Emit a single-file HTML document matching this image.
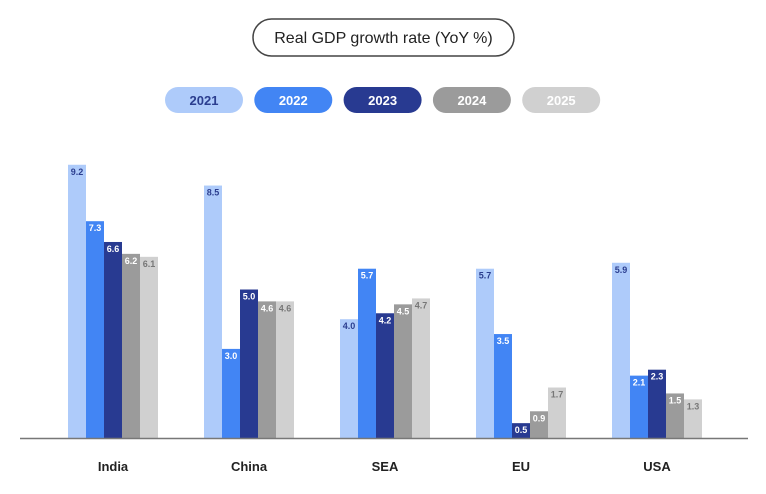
<!DOCTYPE html>
<html><head><meta charset="utf-8"><style>
body{margin:0;background:#fff;font-family:"Liberation Sans",sans-serif}
svg text{font-family:"Liberation Sans",sans-serif}
</style></head><body>
<svg id="c" width="766" height="489" viewBox="0 0 766 489">
<rect x="253" y="19" width="261" height="37" rx="18.5" fill="#fff" stroke="#444" stroke-width="1.5"/>
<text x="383.5" y="43" text-anchor="middle" font-size="16" fill="#222">Real GDP growth rate (YoY %)</text>
<g id="legend"></g>
<g id="bars"></g>
<line x1="20" y1="438.5" x2="748" y2="438.5" stroke="#777" stroke-width="1.5"/>
</svg>
<script>
const categories=["India","China","SEA","EU","USA"];
const years=["2021","2022","2023","2024","2025"];
const v2021=[9.2,8.5,4.0,5.7,5.9];
const v2022=[7.3,3.0,5.7,3.5,2.1];
const v2023=[6.6,5.0,4.2,0.5,2.3];
const v2024=[6.2,4.6,4.5,0.9,1.5];
const v2025=[6.1,4.6,4.7,1.7,1.3];
const series=[v2021,v2022,v2023,v2024,v2025];
const colors=["#aecbfa","#4285f4","#283a91","#9b9b9b","#d0d0d0"];
const labelColors=["#2b3e8f","#fff","#fff","#fff","#777"];
const NS="http://www.w3.org/2000/svg";
const base=438, scale=29.7, groupX0=68, groupStep=136, barW=18;
const y=v=>base-v*scale;
const xg=i=>groupX0+i*groupStep;
function mk(t,a){const e=document.createElementNS(NS,t);for(const k in a)e.setAttribute(k,a[k]);return e;}
const L=document.getElementById('legend');
years.forEach((yr,i)=>{
 const r=mk('rect',{x:165+i*89.3,y:87,width:78,height:26,rx:13,fill:colors[i]});
 
 
 L.appendChild(r);
 const t=mk('text',{x:165+i*89.3+39,y:105,'text-anchor':'middle','font-size':13,'font-weight':'bold',fill:i==0?'#2b3e8f':'#fff'});
 t.textContent=yr;
 
 
 L.appendChild(t);
});
const B=document.getElementById('bars');
categories.forEach((c,ci)=>{
 series.forEach((s,si)=>{
  const x=xg(ci)+si*barW, top=y(s[ci]);
  const r=mk('rect',{x:x,y:top,width:barW,height:base-top,fill:colors[si]});
  
  
  B.appendChild(r);
  const t=mk('text',{x:x+barW/2,y:top+10,'text-anchor':'middle','font-size':9,'font-weight':'bold',fill:labelColors[si]});
  t.textContent=s[ci].toFixed(1);
  
  
  B.appendChild(t);
 });
 const t=mk('text',{x:xg(ci)+barW*2.5,y:471,'text-anchor':'middle','font-size':13,'font-weight':'bold',fill:'#222'});
 t.textContent=c;
 
 
 B.appendChild(t);
});
</script>
</body></html>
